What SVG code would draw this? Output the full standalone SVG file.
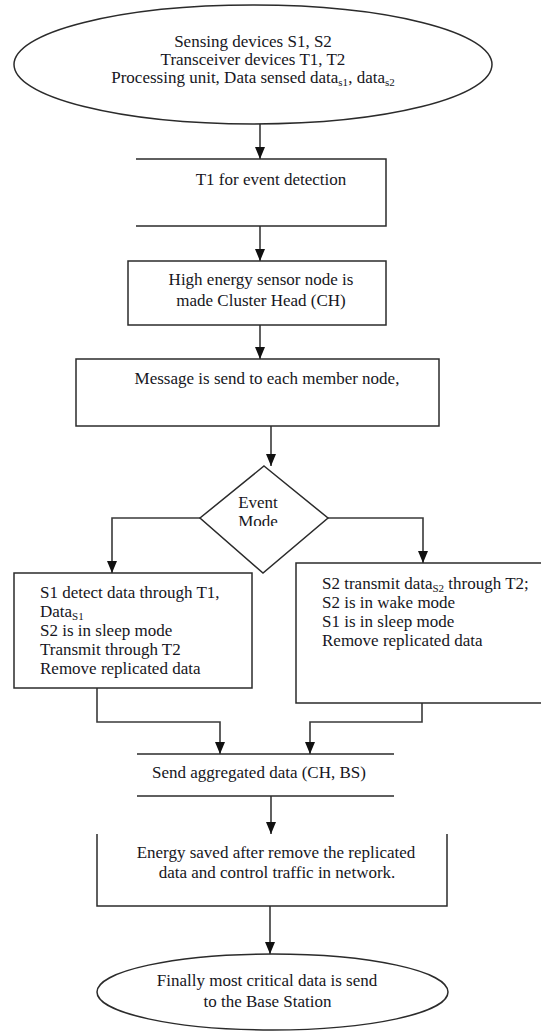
<svg xmlns="http://www.w3.org/2000/svg" width="541" height="1031" viewBox="0 0 541 1031">
  <style>
    .shape { fill: #ffffff; stroke: #2b2b2b; stroke-width: 1.5; }
    .open { fill: none; stroke: #2b2b2b; stroke-width: 1.5; }
    .edge { fill: none; stroke: #3a3a3a; stroke-width: 1.6; marker-end: url(#arrow); }
    text { font-family: "Liberation Serif", "Times New Roman", serif; font-size: 17px; fill: #161622; }
    .c { text-anchor: middle; }
    .sub { font-size: 11px; }
  </style>
  <defs>
    <marker id="arrow" viewBox="0 0 12 10" refX="12" refY="5" markerWidth="12" markerHeight="10" markerUnits="userSpaceOnUse" orient="auto">
      <path d="M0,0 L12,5 L0,10 z" fill="#111"/>
    </marker>
    <clipPath id="modeClip">
      <rect x="200" y="466" width="128" height="60"/>
    </clipPath>
  </defs>

  <rect width="541" height="1031" fill="#ffffff"/>

  <!-- connectors -->
  <g id="connectors">
    <path class="edge" d="M260,124 V159"/>
    <path class="edge" d="M260,226 V261"/>
    <path class="edge" d="M260,325 V359"/>
    <path class="edge" d="M271,426 V466"/>
    <path class="edge" d="M200,518 H112 V573"/>
    <path class="edge" d="M328,518 H423 V563"/>
    <path class="edge" d="M97,688 V722 H220 V754"/>
    <path class="edge" d="M422,703 V722 H310 V754"/>
    <path class="edge" d="M271,796 V834"/>
    <path class="edge" d="M270,906 V954"/>
  </g>

  <!-- start: device inventory -->
  <g id="start">
    <ellipse class="shape" cx="253" cy="64.5" rx="239" ry="59.5"/>
    <text class="c" x="253" y="47">Sensing devices S1, S2</text>
    <text class="c" x="253" y="65">Transceiver devices T1, T2</text>
    <text class="c" x="253" y="83">Processing unit, Data sensed data<tspan class="sub" dy="3">s1</tspan><tspan dy="-3">, data</tspan><tspan class="sub" dy="3">s2</tspan></text>
  </g>

  <!-- event detection step (left side open) -->
  <g id="event-detection">
    <path class="open" d="M136,159 H386 V226 H136"/>
    <text class="c" x="271" y="185">T1 for event detection</text>
  </g>

  <!-- cluster head election -->
  <g id="cluster-head">
    <rect class="shape" x="128" y="261" width="258" height="64"/>
    <text class="c" x="261" y="285">High energy sensor node is</text>
    <text class="c" x="261" y="306">made Cluster Head (CH)</text>
  </g>

  <!-- broadcast to members -->
  <g id="message">
    <rect class="shape" x="76" y="359" width="363" height="67"/>
    <text class="c" x="267" y="384">Message is send to each member node,</text>
  </g>

  <!-- decision -->
  <g id="event-mode">
    <polygon class="shape" points="264,466 328,518 263,573 200,518"/>
    <text class="c" x="258" y="508">Event</text>
    <text class="c" x="258" y="527" clip-path="url(#modeClip)">Mode</text>
  </g>

  <!-- branch: S1 active -->
  <g id="branch-s1">
    <rect class="shape" x="14" y="573" width="238" height="115"/>
    <text x="40" y="598">S1 detect data through T1,</text>
    <text x="40" y="617">Data<tspan class="sub" dy="3">S1</tspan></text>
    <text x="40" y="636">S2 is in sleep mode</text>
    <text x="40" y="655">Transmit through T2</text>
    <text x="40" y="674">Remove replicated data</text>
  </g>

  <!-- branch: S2 active (runs past the right margin) -->
  <g id="branch-s2">
    <path class="open" d="M545,563 H296 V703 H545"/>
    <text x="322" y="589">S2 transmit data<tspan class="sub" dy="3">S2</tspan><tspan dy="-3"> through T2;</tspan></text>
    <text x="322" y="608">S2 is in wake mode</text>
    <text x="322" y="627">S1 is in sleep mode</text>
    <text x="322" y="646">Remove replicated data</text>
  </g>

  <!-- aggregation (top and bottom rules only) -->
  <g id="aggregate">
    <path class="open" d="M137,754 H394 M137,796 H394"/>
    <text class="c" x="259" y="778">Send aggregated data (CH, BS)</text>
  </g>

  <!-- energy summary (open top) -->
  <g id="energy">
    <path class="open" d="M97,834 V906 H447 V834"/>
    <text class="c" x="276" y="858">Energy saved after remove the replicated</text>
    <text class="c" x="277" y="878">data and control traffic in network.</text>
  </g>

  <!-- end -->
  <g id="end">
    <ellipse class="shape" cx="272.5" cy="992" rx="175.5" ry="38"/>
    <text class="c" x="267" y="986">Finally most critical data is send</text>
    <text class="c" x="267.5" y="1007">to the Base Station</text>
  </g>
</svg>
